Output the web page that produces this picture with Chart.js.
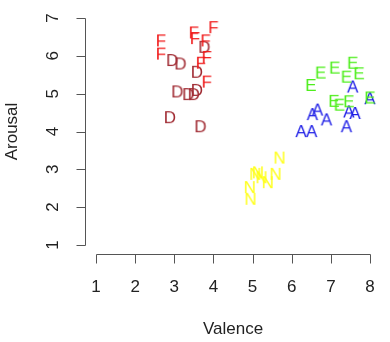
<!DOCTYPE html>
<html>
<head>
<meta charset="utf-8">
<script src="https://cdn.jsdelivr.net/npm/chart.js@4/dist/chart.umd.min.js"></script>
<style>
  html, body { margin: 0; padding: 0; background: #fff; }
  #wrap { width: 390px; height: 342px; }
</style>
</head>
<body>
<div id="wrap"><canvas id="myChart" width="390" height="342"></canvas></div>
<script>
'use strict';

// tick labels
const xTicks = [1, 2, 3, 4, 5, 6, 7, 8];
const yTicks = [1, 2, 3, 4, 5, 6, 7];

// one letter per group
const fValence = [4.00, 3.50, 3.53, 2.66, 2.66, 3.80, 3.83, 3.68, 3.83];
const fArousal = [6.76, 6.62, 6.47, 6.41, 6.06, 6.41, 5.97, 5.82, 5.32];

const dValence = [3.77, 2.95, 3.16, 3.58, 3.08, 3.36, 3.50, 3.58, 2.89, 3.67];
const dArousal = [6.24, 5.89, 5.80, 5.58, 5.06, 4.99, 4.99, 5.10, 4.38, 4.14];

const eValence = [6.49, 6.74, 7.10, 7.40, 7.56, 7.72, 8.00, 7.08, 7.22, 7.46];
const eArousal = [5.23, 5.56, 5.69, 5.45, 5.82, 5.54, 4.90, 4.81, 4.71, 4.80];

const aValence = [7.56, 8.00, 6.66, 6.53, 6.89, 7.46, 7.62, 6.24, 6.51, 7.40];
const aArousal = [5.19, 4.88, 4.58, 4.46, 4.32, 4.53, 4.49, 4.01, 4.01, 4.14];

const nValence = [5.69, 5.59, 5.39, 5.14, 5.07, 5.23, 4.93, 4.95];
const nArousal = [3.31, 2.88, 2.66, 2.92, 2.88, 2.79, 2.53, 2.22];

const FONT = '"Liberation Sans", Arial, Helvetica, sans-serif';

// letter glyph used as point style
function letterPoint(ch, color) {
  let c = document.createElement('canvas');
  c.width = 24;
  c.height = 24;
  let g = c.getContext('2d');
  g.font = '17px ' + FONT;
  g.fillStyle = color;
  g.textAlign = 'center';
  g.textBaseline = 'alphabetic';
  g.fillText(ch, 12, 12 + 6.1);
  return c;
}

function pts(xs, ys) {
  return xs.map((x, i) => ({ x: x, y: ys[i] }));
}

function group(ch, color, xs, ys) {
  return {
    label: ch,
    data: pts(xs, ys),
    pointStyle: letterPoint(ch, color),
    pointRadius: 8,
    pointHoverRadius: 8,
    showLine: false
  };
}

// R style axes: line only between first and last tick, ticks outward
const rAxes = {
  id: 'rAxes',
  afterDraw(chart) {
    let ctx = chart.ctx;
    let xs = chart.scales.x, ys = chart.scales.y;
    let area = chart.chartArea;
    ctx.save();
    ctx.strokeStyle = '#555';
    ctx.lineWidth = 1;
    ctx.fillStyle = '#222';
    ctx.font = '17px ' + FONT;

    // x axis
    let yb = Math.round(area.bottom) + 0.5;
    let x0 = xs.getPixelForValue(xTicks[0]);
    let x1 = xs.getPixelForValue(xTicks[xTicks.length - 1]);
    ctx.beginPath();
    ctx.moveTo(Math.round(x0) + 0.5, yb);
    ctx.lineTo(Math.round(x1) + 0.5, yb);
    xTicks.forEach(v => {
      let px = Math.round(xs.getPixelForValue(v)) + 0.5;
      ctx.moveTo(px, yb);
      ctx.lineTo(px, yb + 9);
    });
    ctx.stroke();
    ctx.textAlign = 'center';
    ctx.textBaseline = 'middle';
    xTicks.forEach(v => {
      ctx.fillText(String(v), xs.getPixelForValue(v), yb + 33);
    });
    ctx.fillText('Valence', (area.left + area.right) / 2, yb + 75);

    // y axis
    let xl = Math.round(area.left) + 0.5;
    let y0 = ys.getPixelForValue(yTicks[0]);
    let y1 = ys.getPixelForValue(yTicks[yTicks.length - 1]);
    ctx.beginPath();
    ctx.moveTo(xl, Math.round(y0) + 0.5);
    ctx.lineTo(xl, Math.round(y1) + 0.5);
    yTicks.forEach(v => {
      let py = Math.round(ys.getPixelForValue(v)) + 0.5;
      ctx.moveTo(xl, py);
      ctx.lineTo(xl - 9, py);
    });
    ctx.stroke();
    yTicks.forEach(v => {
      ctx.save();
      ctx.translate(xl - 32, ys.getPixelForValue(v));
      ctx.rotate(-Math.PI / 2);
      ctx.fillText(String(v), 0, 0);
      ctx.restore();
    });
    ctx.save();
    ctx.translate(12, (area.top + area.bottom) / 2);
    ctx.rotate(-Math.PI / 2);
    ctx.fillText('Arousal', 0, 0);
    ctx.restore();

    ctx.restore();
  }
};

var ctx = document.getElementById('myChart').getContext('2d');
var myChart = new Chart(ctx, {
  type: 'scatter',
  data: {
    datasets: [
      group('F', '#f01818', fValence, fArousal),
      group('D', '#a02a32', dValence, dArousal),
      group('E', '#4eee1c', eValence, eArousal),
      group('A', '#1c1ce6', aValence, aArousal),
      group('N', '#ffff1a', nValence, nArousal)
    ]
  },
  options: {
    responsive: false,
    animation: false,
    layout: { padding: { left: 85, right: 6, top: 7, bottom: 88 } },
    plugins: { legend: { display: false }, tooltip: { enabled: false } },
    scales: {
      x: { type: 'linear', min: 0.72, max: 8.28, display: false },
      y: { type: 'linear', min: 0.76, max: 7.24, display: false }
    }
  },
  plugins: [rAxes]
});
</script>
</body>
</html>
